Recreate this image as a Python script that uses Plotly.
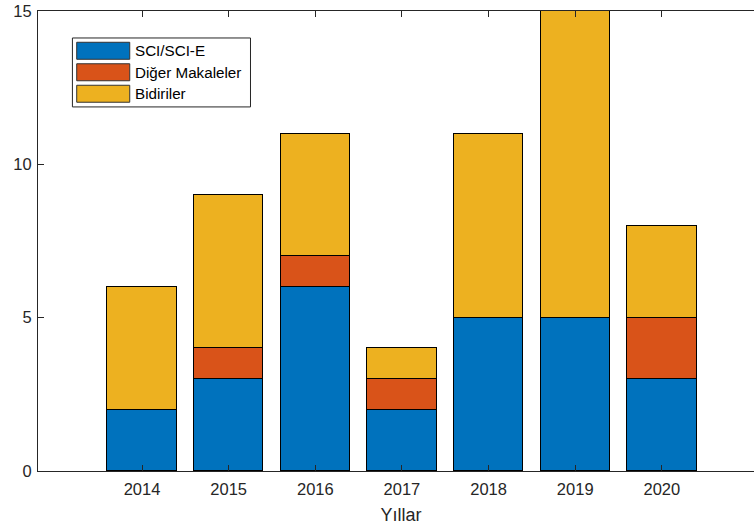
import plotly.graph_objects as go

years = [2014, 2015, 2016, 2017, 2018, 2019, 2020]
series_names = ["SCI/SCI-E", "Diğer Makaleler", "Bidiriler"]
sci = [2, 3, 6, 2, 5, 5, 3]
diger = [0, 1, 1, 1, 0, 0, 2]
bidiriler = [4, 5, 4, 1, 6, 10, 3]
colors = ["#0072BD", "#D95319", "#EDB120"]
y_ticks = [0, 5, 10, 15]
x_title = "Yıllar"

FONT = "Liberation Sans, Arial, sans-serif"
AX = "#262626"

W, H = 764, 529
L, T, B = 38.3, 10.7, 58
plot_w = W - L
plot_h = H - T - B

fig = go.Figure()
for name, vals, col in zip(series_names, [sci, diger, bidiriler], colors):
    fig.add_trace(go.Bar(
        x=years, y=vals, name=name, width=0.8,
        marker=dict(color=col, line=dict(color="#000000", width=1)),
        showlegend=False,
    ))
# invisible trace to activate the top axis (mirrored ticks)
fig.add_trace(go.Scatter(x=years, y=[0] * len(years), xaxis="x2", mode="none",
                         showlegend=False, hoverinfo="skip"))

px_per_year = 86.6
x0 = 2014 - (142.3 - L) / px_per_year
x1 = x0 + plot_w / px_per_year

fig.update_layout(
    width=W, height=H,
    barmode="stack",
    bargap=0,
    plot_bgcolor="white", paper_bgcolor="white",
    margin=dict(l=L, r=0, t=T, b=B, autoexpand=False),
    font=dict(family=FONT, color=AX, size=16.5),
    xaxis=dict(
        range=[x0, x1], tickvals=years, ticktext=[str(y) for y in years],
        showline=True, linecolor=AX, linewidth=1, mirror=False,
        ticks="inside", ticklen=6, tickcolor=AX, showgrid=False, zeroline=False,
        tickfont=dict(size=16.5, color=AX), ticklabelstandoff=3,
        title=dict(text=x_title, font=dict(size=18, color=AX), standoff=11),
    ),
    xaxis2=dict(
        range=[x0, x1], tickvals=years, showticklabels=False, overlaying="x",
        side="top", anchor="y",
        showline=True, linecolor=AX, linewidth=1, mirror=False,
        ticks="inside", ticklen=6, tickcolor=AX, showgrid=False, zeroline=False,
    ),
    yaxis=dict(
        range=[0, 15], tickvals=y_ticks,
        showline=True, linecolor=AX, linewidth=1, mirror=False,
        ticks="inside", ticklen=6, tickcolor=AX, showgrid=False, zeroline=False,
        tickfont=dict(size=16.5, color=AX), ticklabelstandoff=2,
    ),
)

def px_x(x):
    return (x - L) / plot_w

def px_y(y):
    return (T + plot_h - y) / plot_h

# legend box
fig.add_shape(type="rect", xref="paper", yref="paper",
              x0=px_x(72.7), x1=px_x(250.7), y0=px_y(106.7), y1=px_y(37.7),
              line=dict(color=AX, width=1), fillcolor="white", layer="above")
row_tops = [42, 63.5, 85]
for name, col, top in zip(series_names, colors, row_tops):
    fig.add_shape(type="rect", xref="paper", yref="paper",
                  x0=px_x(77), x1=px_x(130), y0=px_y(top + 17), y1=px_y(top),
                  line=dict(color="#333333", width=1), fillcolor=col, layer="above")
    fig.add_annotation(xref="paper", yref="paper", x=px_x(133.5), y=px_y(top + 8.5),
                       text=name, showarrow=False, xanchor="left", yanchor="middle",
                       font=dict(family=FONT, size=15.2, color="#000000"))

fig.write_html("out.html", config={"displayModeBar": False},
               post_script=("document.body.style.margin='0';"
                            "document.body.style.overflow='hidden';"
                            "document.documentElement.style.overflow='hidden';"))
